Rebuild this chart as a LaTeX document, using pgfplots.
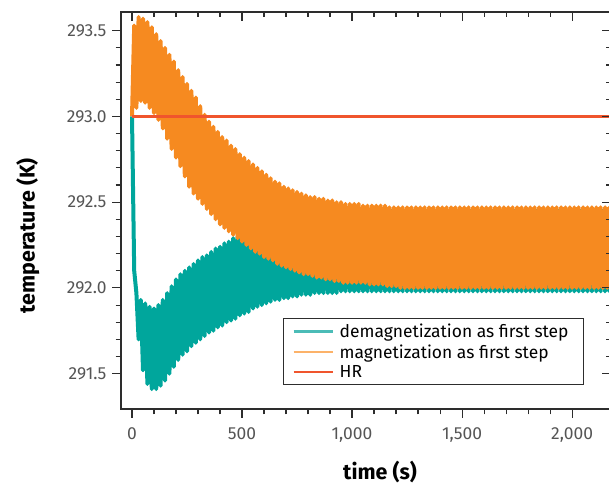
\documentclass[border=0pt]{standalone}
\usepackage{fontspec}
\setmainfont{Fira Sans}
\usepackage{pgfplots}
\pgfplotsset{compat=1.18}
\definecolor{cteal}{RGB}{0,166,156}
\definecolor{corange}{RGB}{246,138,32}
\definecolor{chr}{RGB}{240,85,45}
\definecolor{ctealL}{RGB}{75,188,183}
\definecolor{corangeL}{RGB}{252,178,105}
\definecolor{tickgray}{RGB}{85,85,85}
\definecolor{spine}{RGB}{45,45,45}
\pgfkeys{/pgf/number format/assume math mode=true}
\pgfplotsset{
  common/.style={
    at={(121bp,76bp)}, anchor=south west,
    scale only axis, width=490bp, height=397bp,
    xmin=-50, xmax=2177, ymin=291.294, ymax=293.609,
    xtick={0,500,1000,1500,2000},
    ytick={291.5,292.0,292.5,293.0,293.5},
    minor x tick num=4, minor y tick num=4,
    major tick length=9bp, minor tick length=5.5bp,
    axis line style={spine, line width=1.3bp},
    tick style={spine, line width=1.1bp},
  }
}
\begin{document}
\begin{tikzpicture}[x=1bp,y=1bp]
\useasboundingbox (0,0) rectangle (609,485);
\begin{axis}[common,
  tick align=outside, xtick pos=left, ytick pos=left,
  tick label style={font=\fontsize{17.5}{20}\selectfont, color=tickgray},
  xticklabel style={/pgf/number format/1000 sep={,}, yshift=-6bp},
  yticklabel style={/pgf/number format/fixed, /pgf/number format/precision=1, /pgf/number format/fixed zerofill, xshift=-2bp},
  xlabel={time (s)}, ylabel={temperature (K)},
  label style={font=\fontsize{21.5}{24}\selectfont\bfseries, color=black},
  xlabel style={at={(axis description cs:0.5286,-0.1580)}, anchor=center},
  ylabel style={at={(axis description cs:-0.1900,0.436)}, anchor=center},
  legend style={at={(axis description cs:0.3306,0.2292)}, anchor=north west,
    draw=spine, line width=0.9bp, font=\fontsize{17.5}{20}\selectfont,
    inner xsep=9bp, inner ysep=3.5bp, row sep=1.5bp, fill=white,
    nodes={inner ysep=2bp, inner xsep=6bp}},
  legend cell align=left,
  legend image code/.code={\draw[#1] (0bp,0bp) -- (39bp,0bp);},
  clip=true,
]
% demagnetization as first step
\addplot[cteal, line width=4bp, line join=round,
  legend image post style={draw=ctealL, line width=2.2bp}] coordinates {
(0,293.00)(10,292.10)(20,291.97)(30,291.70)(40,291.93)(50,291.52)(60,291.91)(70,291.44)(80,291.89)(90,291.41)
(100,291.88)(110,291.41)(120,291.90)(130,291.43)(140,291.93)(150,291.46)(160,291.97)(170,291.50)(180,292.01)(190,291.54)
(200,292.05)(210,291.58)(220,292.08)(230,291.61)(240,292.10)(250,291.63)(260,292.12)(270,291.66)(280,292.14)(290,291.68)
(300,292.16)(310,291.70)(320,292.18)(330,291.72)(340,292.19)(350,291.74)(360,292.21)(370,291.75)(380,292.23)(390,291.77)
(400,292.24)(410,291.78)(420,292.26)(430,291.80)(440,292.27)(450,291.81)(460,292.29)(470,291.82)(480,292.30)(490,291.84)
(500,292.31)(510,291.85)(520,292.32)(530,291.86)(540,292.33)(550,291.88)(560,292.34)(570,291.89)(580,292.35)(590,291.90)
(600,292.36)(610,291.91)(620,292.37)(630,291.92)(640,292.37)(650,291.93)(660,292.38)(670,291.93)(680,292.39)(690,291.94)
(700,292.39)(710,291.94)(720,292.40)(730,291.95)(740,292.40)(750,291.95)(760,292.41)(770,291.96)(780,292.41)(790,291.96)
(800,292.42)(810,291.96)(820,292.42)(830,291.97)(840,292.42)(850,291.97)(860,292.43)(870,291.97)(880,292.43)(890,291.97)
(900,292.43)(910,291.97)(920,292.43)(930,291.97)(940,292.44)(950,291.98)(960,292.44)(970,291.98)(980,292.44)(990,291.98)
(1000,292.44)(1010,291.98)
(1020,292.45)(1030,291.98)(1040,292.45)(1050,291.98)(1060,292.45)(1070,291.98)(1080,292.45)(1090,291.98)(1100,292.45)(1110,291.98)
(1120,292.45)(1130,291.98)(1140,292.45)(1150,291.98)(1160,292.45)(1170,291.98)(1180,292.45)(1190,291.98)(1200,292.45)(1210,291.98)
(1220,292.45)(1230,291.98)(1240,292.45)(1250,291.98)(1260,292.45)(1270,291.98)(1280,292.45)(1290,291.98)(1300,292.45)(1310,291.98)
(1320,292.45)(1330,291.98)(1340,292.45)(1350,291.98)(1360,292.45)(1370,291.98)(1380,292.45)(1390,291.98)(1400,292.45)(1410,291.98)
(1420,292.45)(1430,291.98)(1440,292.45)(1450,291.98)(1460,292.45)(1470,291.98)(1480,292.45)(1490,291.98)(1500,292.45)(1510,291.98)
(1520,292.45)(1530,291.98)(1540,292.45)(1550,291.98)(1560,292.45)(1570,291.98)(1580,292.45)(1590,291.98)(1600,292.45)(1610,291.98)
(1620,292.45)(1630,291.98)(1640,292.45)(1650,291.98)(1660,292.45)(1670,291.98)(1680,292.45)(1690,291.98)(1700,292.45)(1710,291.98)
(1720,292.45)(1730,291.98)(1740,292.45)(1750,291.98)(1760,292.45)(1770,291.98)(1780,292.45)(1790,291.98)(1800,292.45)(1810,291.98)
(1820,292.45)(1830,291.98)(1840,292.45)(1850,291.98)(1860,292.45)(1870,291.98)(1880,292.45)(1890,291.98)(1900,292.45)(1910,291.98)
(1920,292.45)(1930,291.98)(1940,292.45)(1950,291.98)(1960,292.45)(1970,291.98)(1980,292.45)(1990,291.98)(2000,292.45)(2010,291.98)
(2020,292.45)(2030,291.98)(2040,292.45)(2050,291.98)(2060,292.45)(2070,291.98)(2080,292.45)(2090,291.98)(2100,292.45)(2110,291.98)
(2120,292.45)(2130,291.98)(2140,292.45)(2150,291.98)(2160,292.45)(2170,291.98)(2180,292.45)(2190,291.98)(2200,292.45)(2210,291.98)
};
\addlegendentry{demagnetization as first step}
% magnetization as first step
\addplot[corange, line width=4bp, line join=round,
  legend image post style={draw=corangeL, line width=2.2bp}] coordinates {
(0,293.00)(10,293.53)(20,293.05)(30,293.58)(40,293.09)(50,293.57)(60,293.08)(70,293.55)(80,293.05)(90,293.52)
(100,293.02)(110,293.48)(120,292.98)(130,293.44)(140,292.93)(150,293.40)(160,292.87)(170,293.36)(180,292.81)(190,293.32)
(200,292.76)(210,293.27)(220,292.71)(230,293.23)(240,292.65)(250,293.19)(260,292.59)(270,293.15)(280,292.55)(290,293.11)
(300,292.52)(310,293.06)(320,292.49)(330,293.01)(340,292.46)(350,292.97)(360,292.43)(370,292.94)(380,292.40)(390,292.91)
(400,292.37)(410,292.88)(420,292.35)(430,292.86)(440,292.33)(450,292.83)(460,292.31)(470,292.81)(480,292.29)(490,292.78)
(500,292.27)(510,292.76)(520,292.25)(530,292.74)(540,292.23)(550,292.72)(560,292.21)(570,292.70)(580,292.20)(590,292.68)
(600,292.18)(610,292.66)(620,292.17)(630,292.64)(640,292.16)(650,292.62)(660,292.14)(670,292.61)(680,292.13)(690,292.59)
(700,292.12)(710,292.58)(720,292.11)(730,292.57)(740,292.10)(750,292.56)(760,292.09)(770,292.55)(780,292.08)(790,292.54)
(800,292.08)(810,292.53)(820,292.07)(830,292.53)(840,292.06)(850,292.52)(860,292.06)(870,292.52)(880,292.05)(890,292.51)
(900,292.05)(910,292.51)(920,292.04)(930,292.50)(940,292.04)(950,292.50)(960,292.03)(970,292.49)(980,292.03)(990,292.49)
(1000,292.03)(1010,292.49)(1020,292.03)(1030,292.49)(1040,292.03)(1050,292.48)(1060,292.03)(1070,292.48)(1080,292.02)(1090,292.48)
(1100,292.02)(1110,292.48)(1120,292.02)(1130,292.48)(1140,292.02)(1150,292.48)(1160,292.01)(1170,292.47)(1180,292.01)(1190,292.47)
(1200,292.01)
(1210,292.47)(1220,292.00)(1230,292.47)(1240,292.00)(1250,292.47)(1260,292.00)(1270,292.47)(1280,292.00)(1290,292.47)(1300,292.00)
(1310,292.47)(1320,292.00)(1330,292.47)(1340,292.00)(1350,292.47)(1360,292.00)(1370,292.47)(1380,292.00)(1390,292.47)(1400,292.00)
(1410,292.47)(1420,292.00)(1430,292.47)(1440,292.00)(1450,292.47)(1460,292.00)(1470,292.47)(1480,292.00)(1490,292.47)(1500,292.00)
(1510,292.47)(1520,292.00)(1530,292.47)(1540,292.00)(1550,292.47)(1560,292.00)(1570,292.47)(1580,292.00)(1590,292.47)(1600,292.00)
(1610,292.47)(1620,292.00)(1630,292.47)(1640,292.00)(1650,292.47)(1660,292.00)(1670,292.47)(1680,292.00)(1690,292.47)(1700,292.00)
(1710,292.47)(1720,292.00)(1730,292.47)(1740,292.00)(1750,292.47)(1760,292.00)(1770,292.47)(1780,292.00)(1790,292.47)(1800,292.00)
(1810,292.47)(1820,292.00)(1830,292.47)(1840,292.00)(1850,292.47)(1860,292.00)(1870,292.47)(1880,292.00)(1890,292.47)(1900,292.00)
(1910,292.47)(1920,292.00)(1930,292.47)(1940,292.00)(1950,292.47)(1960,292.00)(1970,292.47)(1980,292.00)(1990,292.47)(2000,292.00)
(2010,292.47)(2020,292.00)(2030,292.47)(2040,292.00)(2050,292.47)(2060,292.00)(2070,292.47)(2080,292.00)(2090,292.47)(2100,292.00)
(2110,292.47)(2120,292.00)(2130,292.47)(2140,292.00)(2150,292.47)(2160,292.00)(2170,292.47)(2180,292.00)(2190,292.47)(2200,292.00)
};
\addlegendentry{magnetization as first step}
% HR
\addplot[chr, line width=2.4bp,
  legend image post style={draw=chr, line width=2.2bp}] coordinates {(0,293.0) (2300,293.0)};
\addlegendentry{HR}
\end{axis}
\begin{axis}[common,
  tick align=inside, xtick pos=right, ytick pos=right,
  xticklabels={}, yticklabels={},
]
\end{axis}
\end{tikzpicture}
\end{document}
